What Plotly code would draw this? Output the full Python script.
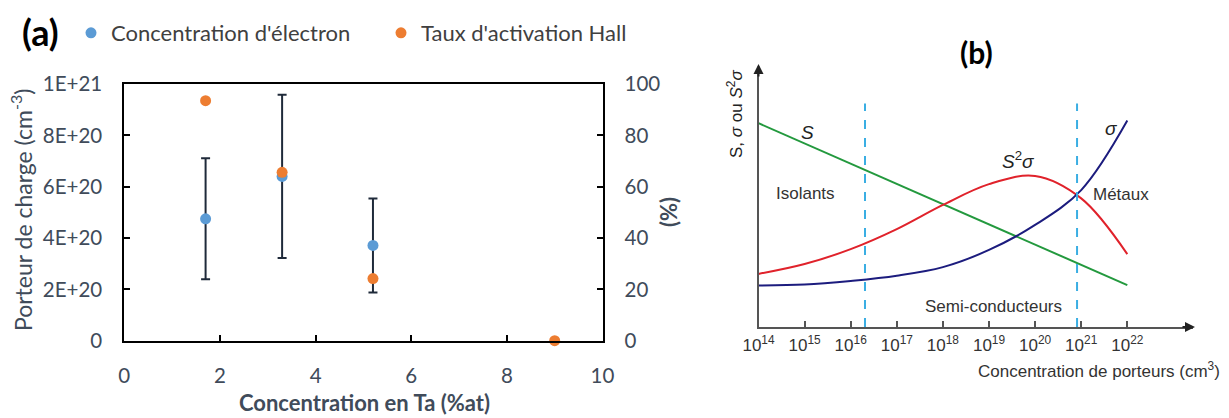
import plotly.graph_objects as go

# ---------------- Data ----------------
# Panel (a)
ta_conc = [1.7, 3.3, 5.2]
electron_conc = [4.75e20, 6.40e20, 3.71e20]
electron_err = [2.36e20, 3.18e20, 1.83e20]
ta_conc_hall = [1.7, 3.3, 5.2, 9.0]
hall_rate = [93.5, 65.6, 24.2, 0.0]
y_left_ticks = [0, 2e20, 4e20, 6e20, 8e20, 1e21]
y_left_labels = ["0", "2E+20", "4E+20", "6E+20", "8E+20", "1E+21"]

# Panel (b) (schematic, arbitrary units)
log_conc = [14, 15, 16, 17, 18, 19, 20, 21, 22]
sigma = [15.9, 16.3, 17.7, 19.7, 23.0, 29.6, 39.2, 52.6, 79.3]
s2sigma = [20.4, 24.2, 29.9, 37.6, 46.9, 54.9, 58.0, 49.4, 28.0]
seebeck_log = [14, 22]
seebeck = [78.3, 16.1]
boundary_log = [16.31, 20.91]
boundary_top = 85.9
tick_exps = [14, 15, 16, 17, 18, 19, 20, 21, 22]

# ---------------- Layout helpers ----------------
W, H = 1229, 418
def px(x):
    return x / W
def py(y):
    return 1 - y / H

TXT = "#404B5A"
BLUE = "#5B9BD5"
ORANGE = "#ED7D31"
GRAY = "#555555"
DEC = 46.1  # px per decade in panel (b)

fig = go.Figure()

# Panel (a)
fig.add_trace(go.Scatter(
    x=ta_conc, y=electron_conc, mode="markers", name="Concentration d'électron",
    marker=dict(color=BLUE, size=11),
    error_y=dict(type="data", array=electron_err, color="#1F2A3A", thickness=2, width=4.5),
    xaxis="x", yaxis="y", cliponaxis=False))
fig.add_trace(go.Scatter(
    x=ta_conc_hall, y=hall_rate, mode="markers", name="Taux d'activation Hall",
    marker=dict(color=ORANGE, size=11),
    xaxis="x", yaxis="y3", cliponaxis=False))

# Panel (b)
n = [10.0 ** k for k in log_conc]
fig.add_trace(go.Scatter(x=[10.0 ** k for k in seebeck_log], y=seebeck, mode="lines",
                         line=dict(color="#23993E", width=2), xaxis="x2", yaxis="y2",
                         showlegend=False))
fig.add_trace(go.Scatter(x=n, y=s2sigma, mode="lines", line=dict(color="#E0222B", width=2, shape="spline"),
                         xaxis="x2", yaxis="y2", showlegend=False))
fig.add_trace(go.Scatter(x=n, y=sigma, mode="lines", line=dict(color="#1C1C7E", width=2, shape="spline"),
                         xaxis="x2", yaxis="y2", showlegend=False))
for b in boundary_log:
    fig.add_trace(go.Scatter(x=[10.0 ** b, 10.0 ** b], y=[0, boundary_top], mode="lines",
                             line=dict(color="#3AAEE3", width=2, dash="dash"),
                             xaxis="x2", yaxis="y2", showlegend=False))

axis_a = dict(showgrid=False, zeroline=False, showline=True, linecolor="black", linewidth=2,
              ticks="inside", ticklen=6, tickwidth=2, tickcolor="black",
              tickfont=dict(family="Lato", size=20.5, color=TXT))

fig.update_layout(
    width=W, height=H, margin=dict(l=0, r=0, t=0, b=0, autoexpand=False),
    paper_bgcolor="white", plot_bgcolor="white",
    font=dict(family="Lato", color=TXT),
    showlegend=True,
    legend=dict(orientation="h", x=px(71), y=py(33), xanchor="left", yanchor="middle",
                entrywidth=265,
                font=dict(family="Lato", size=22, color="#404040"), bgcolor="rgba(0,0,0,0)"),
    xaxis=dict(axis_a, domain=[px(124.3), px(602.5)], range=[0, 10], tickvals=[0, 2, 4, 6, 8, 10],
               mirror=True, anchor="y", ticklabelstandoff=16),
    yaxis=dict(axis_a, domain=[py(340.7), py(84)], range=[0, 1e21], tickvals=y_left_ticks,
               ticktext=y_left_labels, anchor="x", ticklabelstandoff=16),
    yaxis3=dict(axis_a, overlaying="y", side="right", range=[0, 100], tickvals=[0, 20, 40, 60, 80, 100],
                anchor="x", ticklabelstandoff=16),
    xaxis2=dict(type="log", domain=[px(758.5), px(1193)], range=[14, 14 + (1193 - 758.5) / DEC],
                tickvals=[10.0 ** e for e in tick_exps],
                ticktext=["10<sup>%d</sup>" % e for e in tick_exps],
                showgrid=False, zeroline=False, showline=True, linecolor=GRAY, linewidth=2,
                ticks="inside", ticklen=6, tickwidth=2, tickcolor=GRAY,
                tickfont=dict(family="Liberation Sans", size=17, color="#333333"),
                anchor="y2", ticklabelstandoff=2),
    yaxis2=dict(domain=[py(327), py(66.7)], range=[0, 100], showgrid=False, zeroline=False,
                showline=True, linecolor=GRAY, linewidth=2, showticklabels=False, ticks="",
                anchor="x2"),
)

ann = []
def add_text(text, x, y, size, color="#333333", family="Liberation Sans", angle=0, xanchor="center"):
    ann.append(dict(text=text, x=px(x), y=py(y), xref="paper", yref="paper", showarrow=False,
                    xanchor=xanchor, yanchor="middle", textangle=angle,
                    font=dict(family=family, size=size, color=color)))

# Panel (a) texts
add_text("<b>(a)</b>", 40, 32, 36, "black", "Lato")
add_text("Porteur de charge (cm<sup>-3</sup>)", 22, 210, 23, TXT, "Lato", -90)
add_text("<b>(%)</b>", 668, 212, 22, TXT, "Lato", -90)
add_text("<b>Concentration en Ta (%at)</b>", 365, 402, 22, TXT, "Lato")

# Panel (b) texts
add_text("<b>(b)</b>", 976, 52, 30, "black", "Lato")
add_text("S, <i>σ</i> ou <i>S</i><sup>2</sup><i>σ</i>", 735, 114, 17, "#222222", angle=-90)
add_text("<i>S</i>", 807, 132, 19, "#222222")
add_text("<i>σ</i>", 1111, 128, 19, "#222222")
add_text("<i>S</i><sup>2</sup><i>σ</i>", 1018, 160, 19, "#222222")
add_text("Isolants", 805, 193, 17)
add_text("Métaux", 1121, 195, 17)
add_text("Semi-conducteurs", 993, 306, 17)
add_text("Concentration de porteurs (cm<sup>3</sup>)", 1222, 370, 17, xanchor="right")

# Axis arrows for panel (b)
ann.append(dict(x=px(1195), y=py(327), xref="paper", yref="paper", ax=-14, ay=0, text="",
                showarrow=True, arrowhead=2, arrowsize=1, arrowwidth=2, arrowcolor="#222222"))
ann.append(dict(x=px(758.5), y=py(64), xref="paper", yref="paper", ax=0, ay=14, text="",
                showarrow=True, arrowhead=2, arrowsize=1, arrowwidth=2, arrowcolor="#222222"))

fig.update_layout(annotations=ann)

fig.write_html("out.html", config={"displayModeBar": False},
               post_script="document.body.style.margin='0px';")
